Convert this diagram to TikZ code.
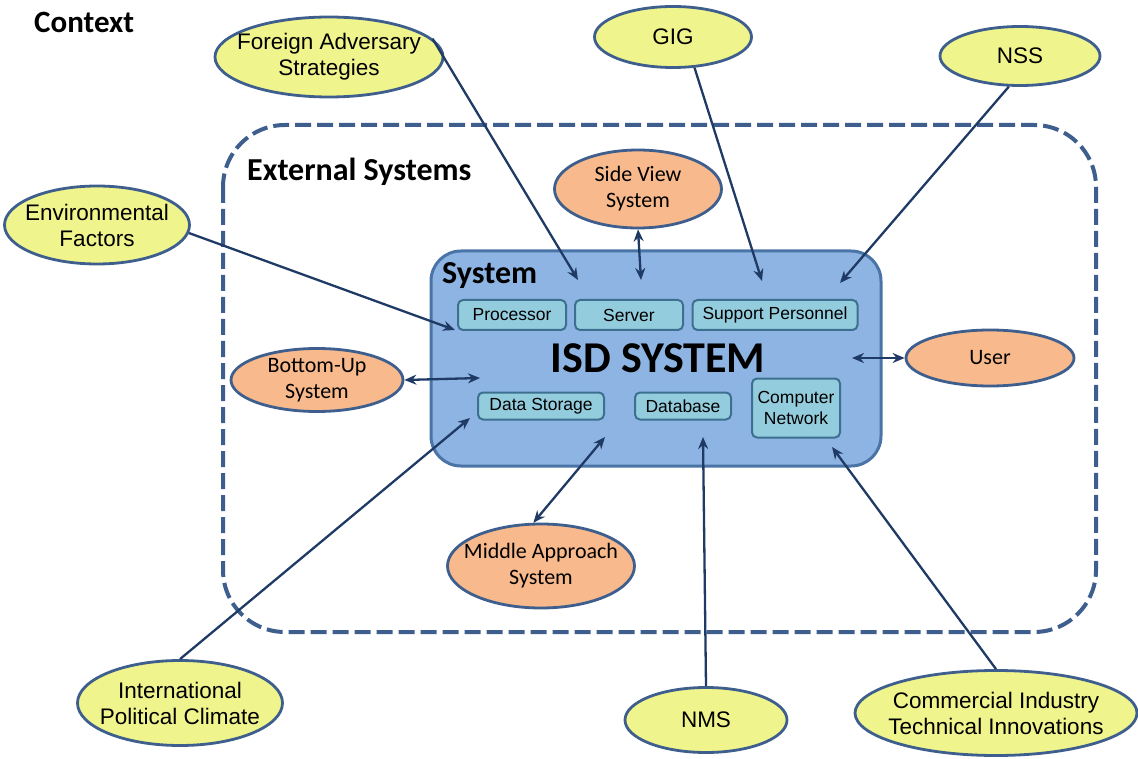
\documentclass[tikz,border=0pt]{standalone}
\usepackage{fontspec}
\setmainfont{Liberation Sans}
\newfontfamily\calfont{Carlito}
\usetikzlibrary{shapes.geometric,arrows.meta}
\definecolor{navy}{HTML}{1F3A64}
\definecolor{edge}{HTML}{3E5F8E}
\definecolor{yel}{HTML}{F0F48C}
\definecolor{org}{HTML}{F8BA8C}
\definecolor{sysfill}{HTML}{8DB4E2}
\definecolor{sysedge}{HTML}{4A74A6}
\definecolor{subfill}{HTML}{93CDDD}
\definecolor{subedge}{HTML}{3D7090}
\tikzset{
  ell/.style={ellipse, draw=edge, line width=2.8pt, inner xsep=-90pt, inner ysep=-30pt, align=center},
  ext/.style={ell, fill=yel, font=\fontsize{22.5}{26}\selectfont},
  inr/.style={ell, fill=org, font=\calfont\fontsize{22}{26}\selectfont},
  sub/.style={draw=subedge, line width=2pt, fill=subfill, rounded corners=5pt, inner sep=0pt, align=center, font=\fontsize{17.5}{21}\selectfont},
  tip/.tip={Stealth[length=12pt,width=10pt]},
  arr/.style={draw=navy, line width=2.3pt, -tip},
  darr/.style={draw=navy, line width=2.3pt, tip-tip},
  head/.style={font=\calfont\bfseries\fontsize{32}{36}\selectfont, anchor=west, inner sep=0pt}
}
\begin{document}
\begin{tikzpicture}[x=1pt,y=-1pt]
\useasboundingbox (0,0) rectangle (1138,759);
% context
\node[head, font=\calfont\bfseries\fontsize{31}{34}\selectfont] (ctx) at (34,22) {Context};
% external systems boundary
\draw[edge, line width=4pt, dash pattern=on 16pt off 6pt, rounded corners=62pt] (223,125) rectangle (1096,632);
\node[head] (exts) at (247,172) {External Systems};
% system box
\draw[sysedge, fill=sysfill, line width=3pt, rounded corners=30pt] (431,251) rectangle (881,466);
\node[head, font=\calfont\bfseries\fontsize{32}{36}\selectfont] (sys) at (442,276) {System};
\node[font=\calfont\bfseries\fontsize{44}{48}\selectfont, inner sep=0pt] (isd) at (658,358) {ISD SYSTEM};
% sub boxes
\node[sub, minimum width=108pt, minimum height=30pt] (proc) at (512,315) {Processor};
\node[sub, minimum width=108pt, minimum height=30pt] (serv) at (629,315) {Server};
\node[sub, minimum width=165pt, minimum height=30pt] (supp) at (775,315) {Support Personnel};
\node[sub, minimum width=126pt, minimum height=27pt] (dstor) at (541,406) {Data Storage};
\node[sub, minimum width=96pt, minimum height=27pt] (dbase) at (683,406) {Database};
\node[sub, minimum width=88pt, minimum height=59pt] (cnet) at (796,408) {Computer\\Network};
% outer ellipses
\node[ext, minimum width=228pt, minimum height=80pt] (fas) at (329,57) {Foreign Adversary\\Strategies};
\node[ext, minimum width=157pt, minimum height=61pt] (gig) at (673,37) {GIG};
\node[ext, minimum width=160pt, minimum height=59pt] (nss) at (1020,56) {NSS};
\node[ext, minimum width=185pt, minimum height=78pt] (env) at (97,225) {Environmental\\Factors};
\node[ext, minimum width=205pt, minimum height=85pt] (ipc) at (180,703) {International\\Political Climate};
\node[ext, minimum width=162pt, minimum height=65pt] (nms) at (706,720) {NMS};
\node[ext, minimum width=282pt, minimum height=85pt] (cit) at (996,713) {Commercial Industry\\Technical Innovations};
% inner ellipses
\node[inr, minimum width=167pt, minimum height=78pt] (svs) at (638,189) {Side View\\System};
\node[inr, minimum width=172pt, minimum height=63pt] (bus) at (317,380) {Bottom-Up\\System};
\node[inr, minimum width=168pt, minimum height=56pt] (usr) at (990,358) {User};
\node[inr, minimum width=187pt, minimum height=84pt] (mas) at (541,566) {Middle Approach\\System};
% arrow end points inside the system
\coordinate (fasE) at (578,280);
\coordinate (gigE) at (762,281);
\coordinate (nssE) at (840,283);
\coordinate (envE) at (455,330);
\coordinate (svsE) at (641,280);
\coordinate (busE) at (480,378);
\coordinate (usrE) at (852,358);
\coordinate (ipcE) at (470,418);
\coordinate (masE) at (605,437);
\coordinate (nmsE) at (703,437);
\coordinate (citE) at (832,447);
% connectors
\draw[arr] (fas.10) -- (fasE);
\draw[arr] (gig.-55) -- (gigE);
\draw[arr] (nss.-110) -- (nssE);
\draw[arr] (env.-5) -- (envE);
\draw[darr] (svs.south) -- (svsE);
\draw[darr] (bus.east) -- (busE);
\draw[darr] (usr.west) -- (usrE);
\draw[arr] (ipc.north) -- (ipcE);
\draw[darr] (mas.100) -- (masE);
\draw[arr] (nms.north) -- (nmsE);
\draw[arr] (cit.north) -- (citE);
\end{tikzpicture}
\end{document}
